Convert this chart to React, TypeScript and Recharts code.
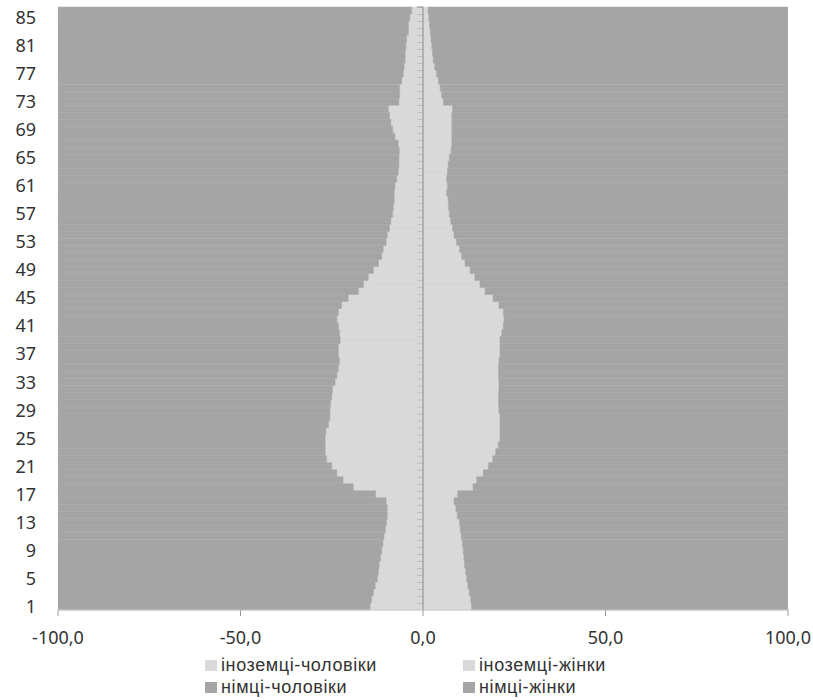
import React from 'react';
import { BarChart, Bar, XAxis, YAxis, ReferenceLine } from 'recharts';

// ages 1..86, bottom to top
const ages = [
  1, 2, 3, 4, 5, 6, 7, 8, 9, 10, 11, 12, 13, 14, 15, 16, 17, 18, 19, 20,
  21, 22, 23, 24, 25, 26, 27, 28, 29, 30, 31, 32, 33, 34, 35, 36, 37, 38, 39, 40,
  41, 42, 43, 44, 45, 46, 47, 48, 49, 50, 51, 52, 53, 54, 55, 56, 57, 58, 59, 60,
  61, 62, 63, 64, 65, 66, 67, 68, 69, 70, 71, 72, 73, 74, 75, 76, 77, 78, 79, 80,
  81, 82, 83, 84, 85, 86,
];

const ageTicks = [1, 5, 9, 13, 17, 21, 25, 29, 33, 37, 41, 45, 49, 53, 57, 61, 65, 69, 73, 77, 81, 85];
const xTicks = [-100, -50, 0, 50, 100];

// share of population, % (men drawn to the left)
const foreignMen = [
  14.5, 14.1, 13.6, 13.1, 12.5, 12.2, 12.0, 11.6, 11.3, 11.0, 10.7, 10.3, 10.0, 9.8, 9.8, 10.1, 13.0, 19.1, 21.9, 23.6,
  25.0, 26.4, 26.8, 26.8, 26.8, 26.6, 25.9, 25.5, 25.5, 25.3, 25.0, 24.8, 24.1, 23.6, 23.2, 22.9, 23.2, 23.2, 22.7, 22.9,
  23.2, 23.6, 23.2, 22.3, 20.5, 17.7, 16.3, 15.0, 13.6, 12.2, 11.3, 10.9, 10.1, 9.8, 9.2, 8.8, 8.3, 8.1, 7.9, 7.9,
  7.7, 7.2, 6.8, 6.6, 6.6, 6.5, 6.8, 7.7, 8.3, 8.8, 9.2, 9.5, 6.6, 6.4, 6.4, 5.8, 5.4, 5.2, 4.9, 4.9,
  4.7, 4.5, 4.0, 4.0, 3.6, 3.1,
];
const foreignWomen = [
  13.3, 13.1, 12.7, 12.3, 12.0, 11.7, 11.4, 11.2, 11.0, 10.8, 10.5, 10.2, 10.0, 9.4, 9.0, 8.5, 9.5, 13.7, 14.7, 16.5,
  17.9, 19.1, 19.9, 20.6, 21.1, 21.1, 21.1, 21.1, 20.8, 20.7, 20.7, 20.8, 20.8, 20.7, 20.7, 20.8, 21.1, 21.1, 21.1, 21.6,
  22.0, 22.2, 22.0, 20.8, 19.2, 17.0, 15.6, 14.2, 12.9, 11.5, 10.6, 10.0, 9.2, 8.5, 8.1, 7.6, 7.2, 7.0, 6.9, 6.5,
  6.7, 6.5, 6.7, 6.9, 7.2, 7.7, 7.9, 7.9, 7.9, 7.9, 7.9, 8.1, 5.6, 5.1, 4.7, 4.2, 3.7, 3.2, 2.8, 2.6,
  2.4, 2.2, 2.0, 1.8, 1.6, 1.4,
];
const germanMen = [
  85.5, 85.9, 86.4, 86.9, 87.5, 87.8, 88.0, 88.4, 88.7, 89.0, 89.3, 89.7, 90.0, 90.2, 90.2, 89.9, 87.0, 80.9, 78.1, 76.4,
  75.0, 73.6, 73.2, 73.2, 73.2, 73.4, 74.1, 74.5, 74.5, 74.7, 75.0, 75.2, 75.9, 76.4, 76.8, 77.1, 76.8, 76.8, 77.3, 77.1,
  76.8, 76.4, 76.8, 77.7, 79.5, 82.3, 83.7, 85.0, 86.4, 87.8, 88.7, 89.1, 89.9, 90.2, 90.8, 91.2, 91.7, 91.9, 92.1, 92.1,
  92.3, 92.8, 93.2, 93.4, 93.4, 93.5, 93.2, 92.3, 91.7, 91.2, 90.8, 90.5, 93.4, 93.6, 93.6, 94.2, 94.6, 94.8, 95.1, 95.1,
  95.3, 95.5, 96.0, 96.0, 96.4, 96.9,
];
const germanWomen = [
  86.7, 86.9, 87.3, 87.7, 88.0, 88.3, 88.6, 88.8, 89.0, 89.2, 89.5, 89.8, 90.0, 90.6, 91.0, 91.5, 90.5, 86.3, 85.3, 83.5,
  82.1, 80.9, 80.1, 79.4, 78.9, 78.9, 78.9, 78.9, 79.2, 79.3, 79.3, 79.2, 79.2, 79.3, 79.3, 79.2, 78.9, 78.9, 78.9, 78.4,
  78.0, 77.8, 78.0, 79.2, 80.8, 83.0, 84.4, 85.8, 87.1, 88.5, 89.4, 90.0, 90.8, 91.5, 91.9, 92.4, 92.8, 93.0, 93.1, 93.5,
  93.3, 93.5, 93.3, 93.1, 92.8, 92.3, 92.1, 92.1, 92.1, 92.1, 92.1, 91.9, 94.4, 94.9, 95.3, 95.8, 96.3, 96.8, 97.2, 97.4,
  97.6, 97.8, 98.0, 98.2, 98.4, 98.6,
];

const LIGHT = '#d9d9d9';
const DARK = '#a5a5a5';
const FONT = '"Noto Sans", sans-serif';
const LEGEND_FONT = '"Liberation Sans", Arial, sans-serif';

const data = ages.map((age, i) => ({
  age,
  foreignMen: -foreignMen[i],
  foreignWomen: foreignWomen[i],
  germanMen: -germanMen[i],
  germanWomen: germanWomen[i],
}));

const fmt = (v: number) => v.toFixed(1).replace('.', ',');

// bar + small category tick on the centre axis
const TickedBar = (props: any) => {
  const { x, y, width, height, fill } = props;
  const left = Math.min(x, x + width);
  const w = Math.abs(width);
  const zeroX = Math.max(x, x + width);
  return (
    <g>
      <rect x={left} y={y} width={w} height={height} fill={fill} stroke={fill} strokeWidth={0.5} />
      <line x1={zeroX - 6} x2={zeroX} y1={y} y2={y} stroke="#8a8a8a" strokeWidth={1} />
    </g>
  );
};

const legendItems = [
  { name: 'іноземці-чоловіки', color: LIGHT, left: 205, top: 655 },
  { name: 'іноземці-жінки', color: LIGHT, left: 463, top: 655 },
  { name: 'німці-чоловіки', color: DARK, left: 205, top: 677 },
  { name: 'німці-жінки', color: DARK, left: 463, top: 677 },
];

export default function App() {
  return (
    <div style={{ position: 'absolute', left: 0, top: 0, width: 813, height: 700, background: '#fff', fontFamily: FONT }}>
      <BarChart
        width={813}
        height={700}
        data={data}
        layout="vertical"
        stackOffset="sign"
        barCategoryGap={0}
        margin={{ top: 7, right: 25, bottom: 50, left: 8 }}
      >
        <XAxis
          type="number"
          domain={[-100, 100]}
          ticks={xTicks}
          tickFormatter={fmt}
          height={40}
          tickSize={6}
          tickMargin={15}
          axisLine={{ stroke: '#c8c8c8' }}
          tickLine={{ stroke: '#9a9a9a' }}
          tick={{ fill: '#333', fontSize: 18, fontFamily: FONT }}
          allowDataOverflow
        />
        <YAxis
          type="category"
          dataKey="age"
          reversed
          ticks={ageTicks}
          interval={0}
          width={50}
          tickSize={0}
          tickMargin={22}
          axisLine={false}
          tickLine={false}
          tick={{ fill: '#333', fontSize: 18, fontFamily: FONT }}
        />
        <Bar dataKey="foreignMen" name="іноземці-чоловіки" stackId="p" fill={LIGHT} shape={<TickedBar />} isAnimationActive={false} />
        <Bar dataKey="foreignWomen" name="іноземці-жінки" stackId="p" fill={LIGHT} stroke={LIGHT} strokeWidth={0.5} isAnimationActive={false} />
        <Bar dataKey="germanMen" name="німці-чоловіки" stackId="p" fill={DARK} stroke={DARK} strokeWidth={0.5} isAnimationActive={false} />
        <Bar dataKey="germanWomen" name="німці-жінки" stackId="p" fill={DARK} stroke={DARK} strokeWidth={0.5} isAnimationActive={false} />
        <ReferenceLine x={0} stroke="#8a8a8a" strokeWidth={1} />
      </BarChart>
      {legendItems.map((it) => (
        <div
          key={it.name}
          style={{
            position: 'absolute',
            left: it.left,
            top: it.top,
            display: 'flex',
            alignItems: 'center',
            fontSize: 18,
            lineHeight: '21px',
            letterSpacing: '0.6px',
            fontFamily: LEGEND_FONT,
            color: '#333',
            whiteSpace: 'nowrap',
          }}
        >
          <span style={{ display: 'inline-block', width: 12, height: 11, background: it.color, marginRight: 4 }} />
          {it.name}
        </div>
      ))}
    </div>
  );
}
